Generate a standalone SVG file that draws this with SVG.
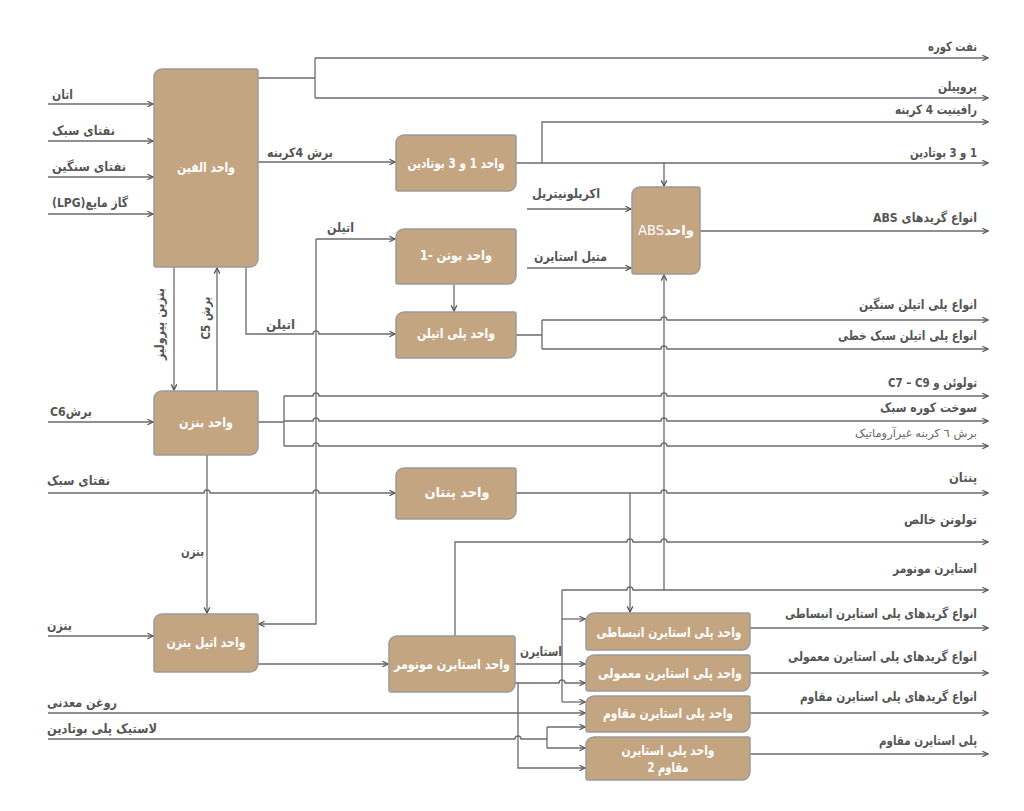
<svg xmlns="http://www.w3.org/2000/svg" width="1024" height="811" viewBox="0 0 1024 811">
<defs>
<marker id="ar" markerUnits="userSpaceOnUse" viewBox="0 0 10 10" refX="9" refY="5" markerWidth="8" markerHeight="8" orient="auto">
<path d="M2,1.5 L9,5 L2,8.5" fill="none" stroke="#555" stroke-width="1.6"/>
</marker>
</defs>
<style>
.n{fill:#c4a582;stroke:#9b9b9b;stroke-width:1.5}
.c path{fill:none;stroke:#6b6b6b;stroke-width:1.3}
.c path.a{marker-end:url(#ar)}
text{font-family:"DejaVu Sans","Noto Sans",sans-serif;font-weight:bold;text-anchor:middle;direction:rtl}
.l{font-size:13px;fill:#555}
.s{font-size:11px;fill:#666;font-weight:normal}
.t{font-size:13.5px;fill:#fff}
</style>
<rect width="1024" height="811" fill="#fff"/>
<g class="c" id="connectors">
<path class="a" d="M48,104 H153"/>
<path class="a" d="M48,141 H153"/>
<path class="a" d="M48,177 H153"/>
<path class="a" d="M48,214 H153"/>
<path d="M258,78 H315 M315,58 V98"/>
<path class="a" d="M315,58 H988"/>
<path class="a" d="M315,98 H988"/>
<path class="a" d="M258,162 H395"/>
<path class="a" d="M516,163 H988"/>
<path class="a" d="M542,163 V122 H988"/>
<path class="a" d="M664,163 V186"/>
<path class="a" d="M527,209 H631"/>
<path class="a" d="M527,268 H631"/>
<path class="a" d="M700,231 H988"/>
<path class="a" d="M246,267 V334 H313 a3,3 0 0 1 6,0 H395"/>
<path class="a" d="M316,239 H395"/>
<path class="a" d="M316,239 V624 H259"/>
<path class="a" d="M454,284 V311"/>
<path d="M516,335 H542 M542,320 V349"/>
<path class="a" d="M542,320 H661 a3,3 0 0 1 6,0 H988"/>
<path class="a" d="M542,349 H661 a3,3 0 0 1 6,0 H988"/>
<path class="a" d="M174,267 V390"/>
<path class="a" d="M217,391 V268"/>
<path class="a" d="M48,422 H153"/>
<path d="M258,422 H284 M284,396 V446"/>
<path class="a" d="M284,396 H313 a3,3 0 0 1 6,0 H661 a3,3 0 0 1 6,0 H988"/>
<path class="a" d="M284,421 H313 a3,3 0 0 1 6,0 H661 a3,3 0 0 1 6,0 H988"/>
<path class="a" d="M284,446 H313 a3,3 0 0 1 6,0 H661 a3,3 0 0 1 6,0 H988"/>
<path class="a" d="M48,493 H204 a3,3 0 0 1 6,0 H313 a3,3 0 0 1 6,0 H395"/>
<path class="a" d="M516,493 H661 a3,3 0 0 1 6,0 H988"/>
<path class="a" d="M630,493 V612"/>
<path class="a" d="M207,455 V613"/>
<path class="a" d="M48,636 H153"/>
<path class="a" d="M258,664 H388"/>
<path class="a" d="M455,636 V542 H627 a3,3 0 0 1 6,0 H661 a3,3 0 0 1 6,0 H988"/>
<path class="a" d="M515,664 H585"/>
<path d="M562,590 V702"/>
<path class="a" d="M562,590 H627 a3,3 0 0 1 6,0 H988"/>
<path class="a" d="M664,590 V275"/>
<path class="a" d="M562,619 H585"/>
<path class="a" d="M562,702 H585"/>
<path class="a" d="M515,683 H559 a3,3 0 0 1 6,0 H585"/>
<path class="a" d="M518,683 V768 H585"/>
<path class="a" d="M48,713 H585"/>
<path d="M48,739 H515 a3,3 0 0 1 6,0 H547 M547,727 V748"/>
<path class="a" d="M547,727 H585"/>
<path class="a" d="M547,748 H585"/>
<path class="a" d="M750,628 H988"/>
<path class="a" d="M750,673 H988"/>
<path class="a" d="M750,713 H988"/>
<path class="a" d="M750,754 H988"/>
</g>
<g id="labels">
<text class="l" x="62.5" y="99" textLength="21" lengthAdjust="spacingAndGlyphs">اتان</text>
<text class="l" x="83.5" y="135" textLength="63" lengthAdjust="spacingAndGlyphs">نفتای سبک</text>
<text class="l" x="89" y="171" textLength="74" lengthAdjust="spacingAndGlyphs">نفتای سنگین</text>
<text class="l" x="90" y="207" textLength="76" lengthAdjust="spacingAndGlyphs">گاز مایع(LPG)</text>
<text class="l" x="300" y="157" textLength="66" lengthAdjust="spacingAndGlyphs">برش 4کربنه</text>
<text class="l" x="952.5" y="51" textLength="49" lengthAdjust="spacingAndGlyphs">نفت کوره</text>
<text class="l" x="957.5" y="91" textLength="39" lengthAdjust="spacingAndGlyphs">پروپیلن</text>
<text class="l" x="936" y="114" textLength="82" lengthAdjust="spacingAndGlyphs">رافینیت 4 کربنه</text>
<text class="l" x="943.5" y="157" textLength="67" lengthAdjust="spacingAndGlyphs">1 و 3 بوتادین</text>
<text class="l" x="925" y="222" textLength="104" lengthAdjust="spacingAndGlyphs">انواع گریدهای ABS</text>
<text class="l" x="566" y="198" textLength="68" lengthAdjust="spacingAndGlyphs">اکریلونیتریل</text>
<text class="l" x="570.5" y="261" textLength="73" lengthAdjust="spacingAndGlyphs">متیل استایرن</text>
<text class="l" x="340.5" y="232" textLength="27" lengthAdjust="spacingAndGlyphs">اتیلن</text>
<text class="l" x="280.5" y="329" textLength="29" lengthAdjust="spacingAndGlyphs">اتیلن</text>
<text class="l" x="918" y="309" textLength="118" lengthAdjust="spacingAndGlyphs">انواع پلی اتیلن سنگین</text>
<text class="l" x="907.5" y="340" textLength="139" lengthAdjust="spacingAndGlyphs">انواع پلی اتیلن سبک خطی</text>
<text class="l" x="932.5" y="387" textLength="89" lengthAdjust="spacingAndGlyphs">تولوئن و C7 – C9</text>
<text class="l" x="928.5" y="412" textLength="97" lengthAdjust="spacingAndGlyphs">سوخت کوره سبک</text>
<text class="s" x="916" y="437" textLength="122" lengthAdjust="spacingAndGlyphs">برش ٦ کربنه غیرآروماتیک</text>
<text class="l" x="963" y="482" textLength="28" lengthAdjust="spacingAndGlyphs">پنتان</text>
<text class="l" x="940.5" y="524" textLength="73" lengthAdjust="spacingAndGlyphs">تولونن خالص</text>
<text class="l" x="935" y="573" textLength="84" lengthAdjust="spacingAndGlyphs">استایرن مونومر</text>
<text class="l" x="881" y="618" textLength="192" lengthAdjust="spacingAndGlyphs">انواع گریدهای پلی استایرن انبساطی</text>
<text class="l" x="882.5" y="661" textLength="189" lengthAdjust="spacingAndGlyphs">انواع گریدهای پلی استایرن معمولی</text>
<text class="l" x="888.5" y="701" textLength="177" lengthAdjust="spacingAndGlyphs">انواع گریدهای پلی استایرن مقاوم</text>
<text class="l" x="928" y="745" textLength="98" lengthAdjust="spacingAndGlyphs">پلی استایرن مقاوم</text>
<text class="l" x="71" y="416" textLength="42" lengthAdjust="spacingAndGlyphs">برشC6</text>
<text class="l" x="78.5" y="485" textLength="63" lengthAdjust="spacingAndGlyphs">نفتای سبک</text>
<text class="l" x="59.5" y="630" textLength="25" lengthAdjust="spacingAndGlyphs">بنزن</text>
<text class="l" x="82" y="707" textLength="70" lengthAdjust="spacingAndGlyphs">روغن معدنی</text>
<text class="l" x="102" y="733" textLength="110" lengthAdjust="spacingAndGlyphs">لاستیک پلی بوتادین</text>
<text class="l" x="541" y="656" textLength="42" lengthAdjust="spacingAndGlyphs">استایرن</text>
<text class="l" x="192.5" y="556" textLength="23" lengthAdjust="spacingAndGlyphs">بنزن</text>
<text class="l" transform="translate(164,324) rotate(-90)" textLength="72" lengthAdjust="spacingAndGlyphs">بنزین پیرولیز</text>
<text class="l" transform="translate(210,318) rotate(-90)" textLength="43" lengthAdjust="spacingAndGlyphs">برش C5</text>
</g>
<g id="olefin"><path class="n" d="M162,69 H256 Q258,69 258,71 V259 A8,8 0 0 1 250,267 H156 Q154,267 154,265 V77 A8,8 0 0 1 162,69 Z"/><text class="t" x="206" y="172" textLength="58" lengthAdjust="spacingAndGlyphs">واحد الفین</text></g>
<g id="butadiene"><path class="n" d="M404,135 H514 Q516,135 516,137 V183 A8,8 0 0 1 508,191 H398 Q396,191 396,189 V143 A8,8 0 0 1 404,135 Z"/><text class="t" x="456" y="168" textLength="97" lengthAdjust="spacingAndGlyphs">واحد 1 و 3 بوتادین</text></g>
<g id="butene1"><path class="n" d="M404,229 H514 Q516,229 516,231 V276 A8,8 0 0 1 508,284 H398 Q396,284 396,282 V237 A8,8 0 0 1 404,229 Z"/><text class="t" x="456" y="260" textLength="72" lengthAdjust="spacingAndGlyphs">واحد بوتن -1</text></g>
<g id="polyethylene"><path class="n" d="M404,312 H514 Q516,312 516,314 V350 A8,8 0 0 1 508,358 H398 Q396,358 396,356 V320 A8,8 0 0 1 404,312 Z"/><text class="t" x="456" y="338" textLength="78" lengthAdjust="spacingAndGlyphs">واحد پلی اتیلن</text></g>
<g id="abs"><path class="n" d="M640,187 H698 Q700,187 700,189 V266 A8,8 0 0 1 692,274 H634 Q632,274 632,272 V195 A8,8 0 0 1 640,187 Z"/><text class="t" x="666" y="235" textLength="56" lengthAdjust="spacingAndGlyphs">واحد<tspan font-weight="normal">ABS</tspan></text></g>
<g id="benzene"><path class="n" d="M162,391 H256 Q258,391 258,393 V447 A8,8 0 0 1 250,455 H156 Q154,455 154,453 V399 A8,8 0 0 1 162,391 Z"/><text class="t" x="206" y="427" textLength="54" lengthAdjust="spacingAndGlyphs">واحد بنزن</text></g>
<g id="pentane"><path class="n" d="M404,468 H514 Q516,468 516,470 V511 A8,8 0 0 1 508,519 H398 Q396,519 396,517 V476 A8,8 0 0 1 404,468 Z"/><text class="t" x="457" y="497" textLength="65" lengthAdjust="spacingAndGlyphs">واحد پنتان</text></g>
<g id="ethylbenzene"><path class="n" d="M162,614 H256 Q258,614 258,616 V664 A8,8 0 0 1 250,672 H156 Q154,672 154,670 V622 A8,8 0 0 1 162,614 Z"/><text class="t" x="206" y="647" textLength="79" lengthAdjust="spacingAndGlyphs">واحد اتیل بنزن</text></g>
<g id="styrene-monomer"><path class="n" d="M397,636 H513 Q515,636 515,638 V684 A8,8 0 0 1 507,692 H391 Q389,692 389,690 V644 A8,8 0 0 1 397,636 Z"/><text class="t" x="452" y="669" textLength="116" lengthAdjust="spacingAndGlyphs">واحد استایرن مونومر</text></g>
<g id="ps-expandable"><path class="n" d="M594,613 H748 Q750,613 750,615 V642 A8,8 0 0 1 742,650 H588 Q586,650 586,648 V621 A8,8 0 0 1 594,613 Z"/><text class="t" x="669" y="637" textLength="145" lengthAdjust="spacingAndGlyphs">واحد پلی استایرن انبساطی</text></g>
<g id="ps-general"><path class="n" d="M594,655 H748 Q750,655 750,657 V683 A8,8 0 0 1 742,691 H588 Q586,691 586,689 V663 A8,8 0 0 1 594,655 Z"/><text class="t" x="670" y="678" textLength="144" lengthAdjust="spacingAndGlyphs">واحد پلی استایرن معمولی</text></g>
<g id="ps-resistant"><path class="n" d="M594,696 H748 Q750,696 750,698 V724 A8,8 0 0 1 742,732 H588 Q586,732 586,730 V704 A8,8 0 0 1 594,696 Z"/><text class="t" x="668" y="718" textLength="130" lengthAdjust="spacingAndGlyphs">واحد پلی استایرن مقاوم</text></g>
<g id="ps-resistant2"><path class="n" d="M594,737 H748 Q750,737 750,739 V772 A8,8 0 0 1 742,780 H588 Q586,780 586,778 V745 A8,8 0 0 1 594,737 Z"/><text class="t" x="668" y="755" textLength="93" lengthAdjust="spacingAndGlyphs">واحد پلی استایرن</text><text class="t" x="668" y="772" textLength="41" lengthAdjust="spacingAndGlyphs">مقاوم 2</text></g>
</svg>
